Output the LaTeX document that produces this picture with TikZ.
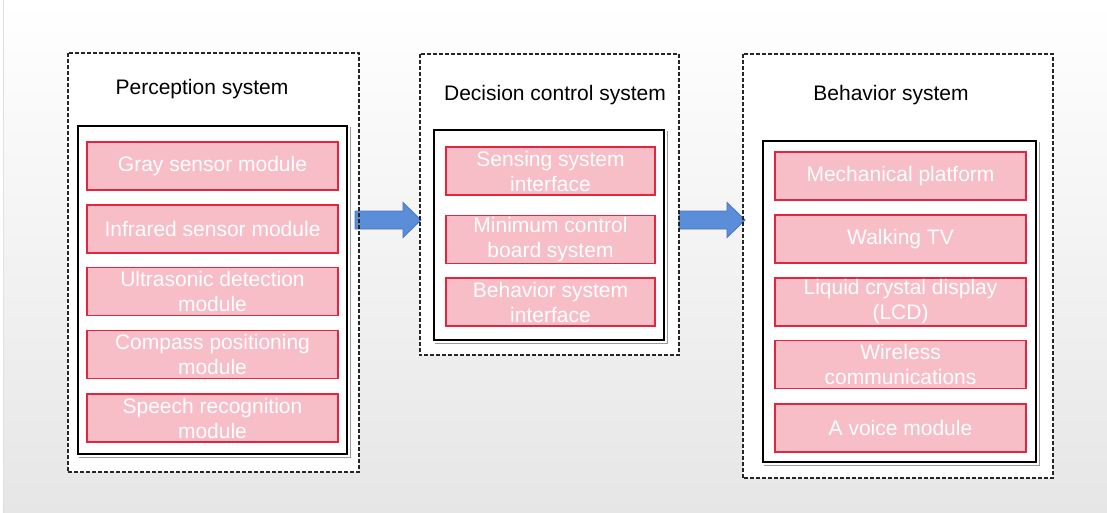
\documentclass[tikz,border=0pt]{standalone}
\usepackage{fontspec}
\setmainfont{Liberation Sans}
\usetikzlibrary{calc}
\definecolor{modfill}{HTML}{F7BEC7}
\definecolor{moddraw}{HTML}{E5243F}
\definecolor{arrfill}{HTML}{5B8ED9}
\definecolor{arrdraw}{HTML}{4674BE}
\definecolor{bgbottom}{HTML}{E6E6E6}
\begin{document}
\begin{tikzpicture}[x=1pt,y=-1pt,
  outerfill/.style={fill=white, inner sep=0pt, draw=none},
  outerline/.style={draw=black!85, line width=1.5pt, dash pattern=on 4pt off 2pt},
  innerbox/.style={draw=black, line width=2.6pt, fill=white, inner sep=0pt},
  innershade/.style={draw=black!40, line width=1pt},
  modbox/.style={draw=moddraw, line width=1.3pt, fill=modfill, text=white,
    font=\fontsize{21}{25}\selectfont, align=center,
    minimum height=48pt, inner sep=0pt},
  wide/.style={minimum width=251pt},
  narrow/.style={minimum width=209pt},
  systitle/.style={font=\fontsize{21}{25}\selectfont, text=black, inner sep=0pt},
  blockarrow/.style={draw=arrdraw, fill=arrfill, line width=0.8pt, line join=miter}
]
\useasboundingbox (0,0) rectangle (1107,513);
% backdrop
\fill[white] (0,0) rectangle (1107,513);
\fill[top color=white, bottom color=bgbottom] (3,0) rectangle (1107,513);
\draw[black!12, line width=0.6pt] (3,0) -- (3,513);

% outer dashed frames (fill first, borders drawn later)
\node[outerfill, minimum width=291pt, minimum height=419pt] (pout) at (213.5,262.5) {};
\node[outerfill, minimum width=259pt, minimum height=301pt] (dout) at (549.5,204.5) {};
\node[outerfill, minimum width=310pt, minimum height=424pt] (bout) at (898,266) {};

% block arrows between the systems
\coordinate (a1s) at (355,220);
\coordinate (a1e) at (421,220);
\coordinate (a2s) at (679,220);
\coordinate (a2e) at (745,220);
\draw[blockarrow] ($(a1s)+(0,-9)$) -- ++(48,0) -- ++(0,-8.5) -- (a1e)
  -- ++(-18,17.5) -- ++(0,-8.5) -- ++(-48,0) -- cycle;
\draw[blockarrow] ($(a2s)+(0,-9)$) -- ++(48,0) -- ++(0,-8.5) -- (a2e)
  -- ++(-18,17.5) -- ++(0,-8.5) -- ++(-48,0) -- cycle;

\draw[outerline] (pout.north west) rectangle (pout.south east);
\draw[outerline] (dout.north west) rectangle (dout.south east);
\draw[outerline] (bout.north west) rectangle (bout.south east);

% titles
\node[systitle] (ptitle) at (202,89) {Perception system};
\node[systitle] (dtitle) at (555,95) {Decision control system};
\node[systitle] (btitle) at (891,95) {Behavior system};

% inner solid frames
\node[innerbox, minimum width=269pt, minimum height=328pt] (pin) at (212.5,290) {};
\node[innerbox, minimum width=230pt, minimum height=210pt] (din) at (549,235) {};
\node[innerbox, minimum width=273pt, minimum height=321pt] (bin) at (899.5,301.5) {};
\foreach \b in {pin,din,bin}{
  \draw[innershade] ([shift={(2.5,1.9)}]\b.south west) -- ([shift={(1.9,1.9)}]\b.south east)
    -- ([shift={(1.9,2.5)}]\b.north east);
}

% perception modules
\node[modbox, wide] (p1) at (212.5,166) {Gray sensor module};
\node[modbox, wide] (p2) at (212.5,229) {Infrared sensor module};
\node[modbox, wide] (p3) at (212.5,291.5) {Ultrasonic detection\\module};
\node[modbox, wide] (p4) at (212.5,354.5) {Compass positioning\\module};
\node[modbox, wide] (p5) at (212.5,418) {Speech recognition\\module};

% decision control modules
\node[modbox, narrow] (d1) at (550.5,171) {Sensing system\\interface};
\node[modbox, narrow] (d2) at (550.5,239.5) {Minimum control\\board system};
\node[modbox, narrow] (d3) at (550.5,302) {Behavior system\\interface};

% behavior modules
\node[modbox, wide] (b1) at (900.5,176) {Mechanical platform};
\node[modbox, wide] (b2) at (900.5,239) {Walking TV};
\node[modbox, wide] (b3) at (900.5,302) {Liquid crystal display\\(LCD)};
\node[modbox, wide] (b4) at (900.5,364.5) {Wireless\\communications};
\node[modbox, wide] (b5) at (900.5,428) {A voice module};
\end{tikzpicture}
\end{document}
